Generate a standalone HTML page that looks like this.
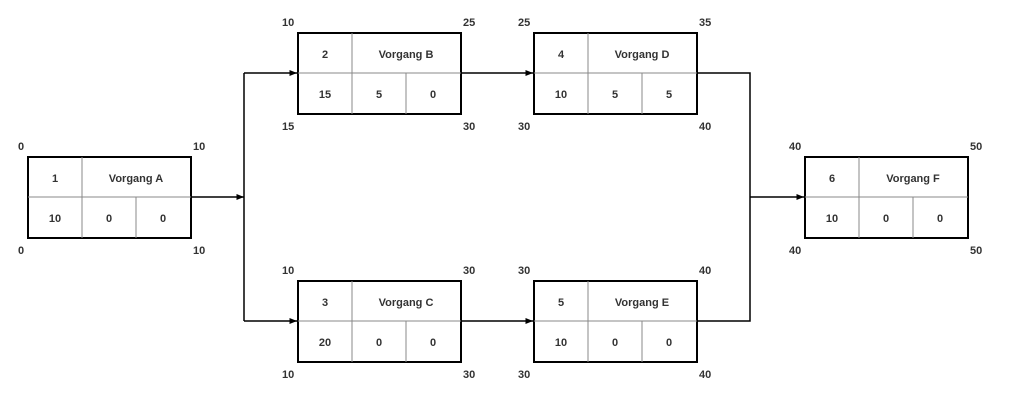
<!DOCTYPE html><html><head><style>body{margin:0;background:#fff}</style></head><body>
<svg width="1011" height="408" xmlns="http://www.w3.org/2000/svg" font-family="Liberation Sans, sans-serif" font-size="11" font-weight="bold" fill="#333">
<defs><marker id="a" markerWidth="6" markerHeight="6" refX="5" refY="3" orient="auto"><path d="M0,1 L5,3 L0,5z" fill="#000"/></marker></defs>
<g stroke="#000" stroke-width="1.5" fill="none">
<path d="M191,197 H244" marker-end="url(#a)"/>
<path d="M244,73 V321"/>
<path d="M244,73 H297" marker-end="url(#a)"/>
<path d="M244,321 H297" marker-end="url(#a)"/>
<path d="M461,73 H533" marker-end="url(#a)"/>
<path d="M461,321 H533" marker-end="url(#a)"/>
<path d="M697,73 H750 V321 H697"/>
<path d="M750,197 H804" marker-end="url(#a)"/>
</g>

<!-- A -->
<g transform="translate(28,157)">
<rect width="163" height="81" fill="#fff" stroke="#000" stroke-width="2"/>
<path d="M0 40H163M54 0V81M108 40V81" stroke="#888" stroke-width="1"/>
<g text-anchor="middle"><text x="27" y="25">1</text><text x="108" y="25">Vorgang A</text><text x="27" y="65">10</text><text x="81" y="65">0</text><text x="135" y="65">0</text></g>
<text x="-10" y="-7">0</text><text x="165" y="-7">10</text><text x="-10" y="97">0</text><text x="165" y="97">10</text>
</g>
<!-- B -->
<g transform="translate(298,33)">
<rect width="163" height="81" fill="#fff" stroke="#000" stroke-width="2"/>
<path d="M0 40H163M54 0V81M108 40V81" stroke="#888" stroke-width="1"/>
<g text-anchor="middle"><text x="27" y="25">2</text><text x="108" y="25">Vorgang B</text><text x="27" y="65">15</text><text x="81" y="65">5</text><text x="135" y="65">0</text></g>
<text x="-16" y="-7">10</text><text x="165" y="-7">25</text><text x="-16" y="97">15</text><text x="165" y="97">30</text>
</g>
<!-- D -->
<g transform="translate(534,33)">
<rect width="163" height="81" fill="#fff" stroke="#000" stroke-width="2"/>
<path d="M0 40H163M54 0V81M108 40V81" stroke="#888" stroke-width="1"/>
<g text-anchor="middle"><text x="27" y="25">4</text><text x="108" y="25">Vorgang D</text><text x="27" y="65">10</text><text x="81" y="65">5</text><text x="135" y="65">5</text></g>
<text x="-16" y="-7">25</text><text x="165" y="-7">35</text><text x="-16" y="97">30</text><text x="165" y="97">40</text>
</g>
<!-- C -->
<g transform="translate(298,281)">
<rect width="163" height="81" fill="#fff" stroke="#000" stroke-width="2"/>
<path d="M0 40H163M54 0V81M108 40V81" stroke="#888" stroke-width="1"/>
<g text-anchor="middle"><text x="27" y="25">3</text><text x="108" y="25">Vorgang C</text><text x="27" y="65">20</text><text x="81" y="65">0</text><text x="135" y="65">0</text></g>
<text x="-16" y="-7">10</text><text x="165" y="-7">30</text><text x="-16" y="97">10</text><text x="165" y="97">30</text>
</g>
<!-- E -->
<g transform="translate(534,281)">
<rect width="163" height="81" fill="#fff" stroke="#000" stroke-width="2"/>
<path d="M0 40H163M54 0V81M108 40V81" stroke="#888" stroke-width="1"/>
<g text-anchor="middle"><text x="27" y="25">5</text><text x="108" y="25">Vorgang E</text><text x="27" y="65">10</text><text x="81" y="65">0</text><text x="135" y="65">0</text></g>
<text x="-16" y="-7">30</text><text x="165" y="-7">40</text><text x="-16" y="97">30</text><text x="165" y="97">40</text>
</g>
<!-- F -->
<g transform="translate(805,157)">
<rect width="163" height="81" fill="#fff" stroke="#000" stroke-width="2"/>
<path d="M0 40H163M54 0V81M108 40V81" stroke="#888" stroke-width="1"/>
<g text-anchor="middle"><text x="27" y="25">6</text><text x="108" y="25">Vorgang F</text><text x="27" y="65">10</text><text x="81" y="65">0</text><text x="135" y="65">0</text></g>
<text x="-16" y="-7">40</text><text x="165" y="-7">50</text><text x="-16" y="97">40</text><text x="165" y="97">50</text>
</g>
</svg></body></html>
